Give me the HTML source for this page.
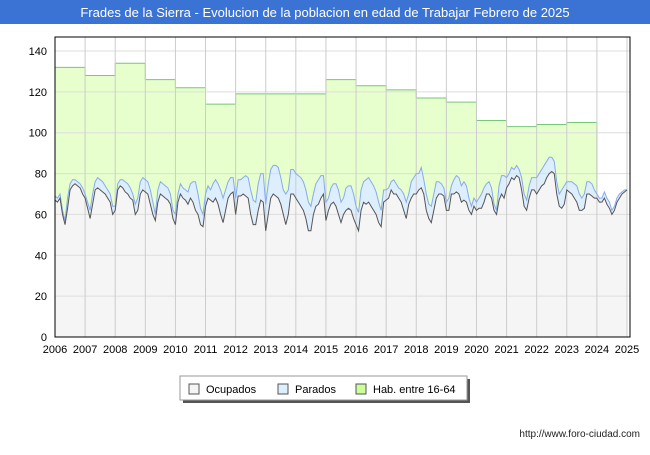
<!DOCTYPE html>
<html><head><meta charset="utf-8"><style>
body{margin:0;background:#fff;font-family:"Liberation Sans",sans-serif}
</style></head><body>
<svg width="650" height="450" xmlns="http://www.w3.org/2000/svg">
<rect x="0" y="0" width="650" height="450" fill="#fff"/>
<rect x="0" y="0" width="650" height="24" fill="#3b73d4"/>
<text x="325" y="17" fill="#fff" font-size="13" text-anchor="middle">Frades de la Sierra - Evolucion de la poblacion en edad de Trabajar Febrero de 2025</text>
<g id="plot"></g>
<g id="legend">
<rect x="183" y="379" width="287" height="24" fill="#555"/>
<rect x="180" y="376" width="287" height="24" fill="#fff" stroke="#999"/>
<rect x="189" y="384" width="10" height="10" fill="#f5f5f5" stroke="#555"/>
<text x="206" y="393" font-size="11">Ocupados</text>
<rect x="278" y="384" width="10" height="10" fill="#ddeeff" stroke="#555"/>
<text x="295" y="393" font-size="11">Parados</text>
<rect x="356" y="384" width="10" height="10" fill="#ccff99" stroke="#555"/>
<text x="373" y="393" font-size="11">Hab. entre 16-64</text>
</g>
<text x="640" y="437" font-size="10" text-anchor="end" fill="#222">http://www.foro-ciudad.com</text>
</svg>
<script>
const years=[2006,2007,2008,2009,2010,2011,2012,2013,2014,2015,2016,2017,2018,2019,2020,2021,2022,2023,2024,2025];
const yTicks=[0,20,40,60,80,100,120,140];
const hab=[132,128,134,126,122,114,119,119,119,126,123,121,117,115,106,103,104,105];
const ocupados=[67,66,68,60,55,63,72,74,75,74,73,70,
68,63,58,65,72,73,72,71,70,68,66,60,
62,72,74,73,71,70,68,67,60,62,70,72,
71,70,65,60,57,66,70,69,68,67,65,58,
55,66,70,68,67,65,68,66,62,60,55,54,
64,68,67,66,68,65,60,56,62,68,70,71,
60,69,69,70,69,68,60,55,55,62,67,66,
52,60,68,70,69,68,65,60,55,60,70,70,
68,66,64,62,58,52,52,60,64,65,68,70,
57,62,65,66,64,60,56,60,62,63,62,58,
55,52,62,66,65,66,64,62,60,56,54,66,
67,68,72,70,70,68,66,62,58,65,68,70,
70,72,73,70,62,58,56,62,68,70,70,69,
62,62,70,70,71,70,66,67,66,62,60,64,
62,63,63,66,70,70,68,62,60,67,70,68,
73,75,78,77,79,78,72,64,62,68,72,72,
70,72,74,75,78,80,81,80,70,64,63,65,
72,71,70,68,66,62,62,63,70,70,69,68,
68,66,66,68,65,63,60,62,66,68,70,71,72];
const total=[69,68,70,62,57,68,75,77,77,76,75,73,
70,66,62,70,76,78,77,76,74,72,70,64,
64,75,77,77,76,75,73,70,65,68,76,78,
77,76,72,66,60,72,76,75,74,73,70,62,
60,70,75,73,72,71,75,76,76,70,63,60,
70,74,72,75,77,75,72,68,72,76,78,78,
68,77,77,78,79,78,72,67,66,75,80,80,
65,75,82,84,84,83,78,72,70,72,82,82,
80,79,78,76,72,66,64,70,75,77,79,79,
66,68,73,75,75,72,66,68,73,74,74,70,
64,61,72,76,77,78,76,74,71,66,62,72,
72,73,76,77,75,73,72,70,66,70,76,78,
80,80,83,77,70,65,64,70,76,76,75,73,
66,68,74,77,79,78,74,76,74,68,64,68,
66,68,70,73,75,76,73,65,62,74,79,79,
78,80,83,82,84,82,78,70,67,74,78,78,
78,80,82,84,86,88,88,86,76,70,72,74,
76,76,76,75,74,70,68,70,76,76,75,72,
70,68,68,71,68,66,62,64,68,70,71,72,72];
const NS="http://www.w3.org/2000/svg";
const L=55,R=630,T=37,B=337;
const X=t=>L+(t-2006)*(R-L)/19.1;
const Y=v=>B-v*(B-51)/140;
const g=document.getElementById('plot');
function mk(tag,at){const e=document.createElementNS(NS,tag);for(const k in at)e.setAttribute(k,at[k]);g.appendChild(e);return e;}
const bg=mk('rect',{x:L,y:T,width:R-L,height:B-T,fill:'#fff'});


// hab area
let hp=`M${X(2006)},${Y(0)}`;
hab.forEach((v,i)=>{hp+=` L${X(2006+i)},${Y(v)} L${X(2007+i)},${Y(v)}`;});
const endT=2006+hab.length;
hp+=` L${X(endT)},${Y(total[hab.length*12])} L${X(endT)},${Y(0)} Z`;
const ha=mk('path',{d:hp,fill:'#e6ffcc',stroke:'none'});


let hl=hp.replace(/ L[^L]*Z$/,'').replace(/^M[^L]*L/,'M');
const hline=mk('path',{d:hl,fill:'none',stroke:'#77c877','stroke-width':1});


function series(arr){return arr.map((v,i)=>`${X(2006+i/12)},${Y(v)}`);}
const tp=series(total),op=series(ocupados);
const tx=X(2006+(total.length-1)/12);
const ta=mk('path',{d:`M${X(2006)},${Y(0)} L${tp.join(' L')} L${tx},${Y(0)} Z`,fill:'#ddeeff'});


const oa=mk('path',{d:`M${X(2006)},${Y(0)} L${op.join(' L')} L${tx},${Y(0)} Z`,fill:'#f5f5f5'});


// grid
yTicks.forEach(v=>{
 const l=mk('line',{x1:L,x2:R,y1:Y(v),y2:Y(v),stroke:'#ddd'});
 
 
 const t=mk('text',{x:L-8,y:Y(v)+4,'font-size':11,'text-anchor':'end'});t.textContent=v;
 
 
});
years.forEach(yr=>{
 const l=mk('line',{x1:X(yr),x2:X(yr),y1:T,y2:B,stroke:'#ccc'});
 
 
 const t=mk('text',{x:X(yr),y:B+16,'font-size':11,'text-anchor':'middle'});t.textContent=yr;
 
 
});
const tl=mk('path',{d:'M'+tp.join(' L'),fill:'none',stroke:'#88aaee','stroke-width':1});


const ol=mk('path',{d:'M'+op.join(' L'),fill:'none',stroke:'#555','stroke-width':1});


const fr=mk('rect',{x:L,y:T,width:R-L,height:B-T,fill:'none',stroke:'#000','stroke-width':1});


</script>
</body></html>
